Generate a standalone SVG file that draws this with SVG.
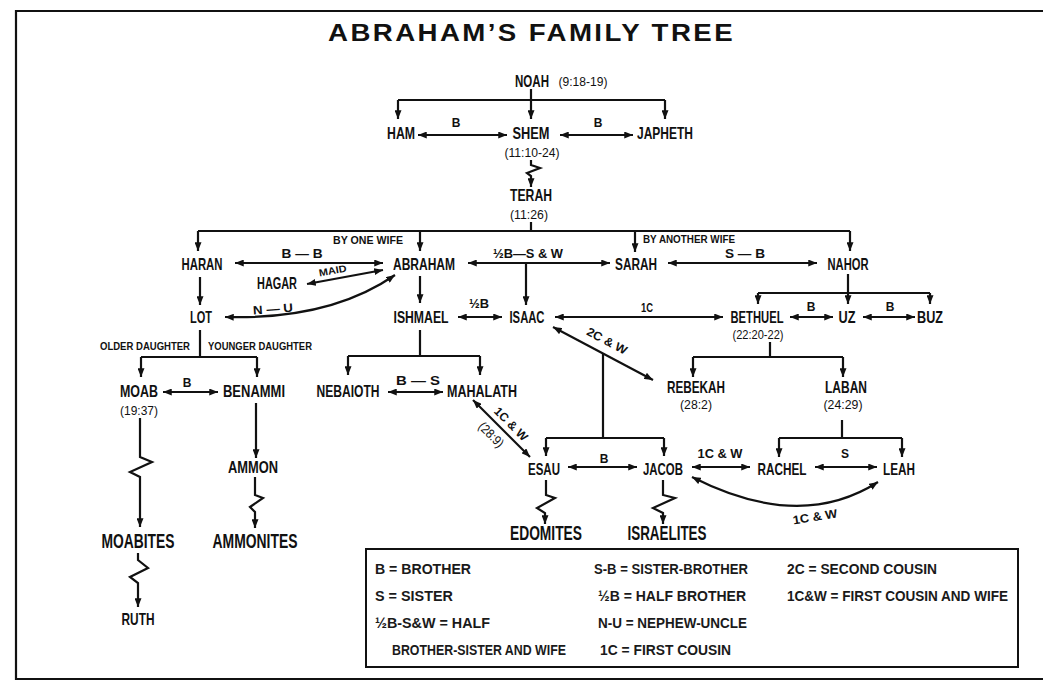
<svg xmlns="http://www.w3.org/2000/svg" width="1043" height="694" viewBox="0 0 1043 694">
<defs>
<marker id="ah" viewBox="0 0 10 8" refX="10" refY="4" markerWidth="9" markerHeight="7" markerUnits="userSpaceOnUse" orient="auto-start-reverse"><path d="M0,0 L10,4 L0,8 z" fill="#111"/></marker>
</defs>
<style>
text{font-family:"Liberation Sans",Arial,Helvetica,sans-serif;fill:#111}
.t{font-size:23px;font-weight:bold}
.n{font-size:16.5px;font-weight:bold;text-anchor:middle}
.big{font-size:20px;font-weight:bold;text-anchor:middle}
.r{font-size:13px;text-anchor:middle}
.e{font-size:12px;font-weight:bold;text-anchor:middle}
.s{font-size:10px;font-weight:bold}
.lg{font-size:14.5px;font-weight:bold;fill:#1a1a1a}
.c{fill:none;stroke:#111;stroke-width:2.2}
.a{fill:none;stroke:#111;stroke-width:2.2;marker-end:url(#ah)}
.d{fill:none;stroke:#111;stroke-width:2.2;marker-start:url(#ah);marker-end:url(#ah)}
.frame{fill:none;stroke:#111;stroke-width:2.2}
</style>
<rect width="1043" height="694" fill="#fff"/>
<path class="frame" d="M1043,11 H16 V679 H1043"/>
<text class="t" x="328" y="41" textLength="407" lengthAdjust="spacingAndGlyphs" letter-spacing="2">ABRAHAM’S FAMILY TREE</text>

<g id="connectors">
<path class="c" d="M531,89 V100 M398,100 H665"/>
<path class="a" d="M398,100 V119"/>
<path class="a" d="M531,100 V119"/>
<path class="a" d="M665,100 V119"/>
<path class="d" d="M418,135 H507"/>
<path class="d" d="M560,135 H633"/>
<path class="a" d="M531,160 V165 L540,168 L527,173 L531,176 V187"/>
<path class="c" d="M531,222 V231 M198,231 H850"/>
<path class="a" d="M198,231 V251"/>
<path class="a" d="M420,231 V251"/>
<path class="a" d="M635,231 V252"/>
<path class="a" d="M850,231 V251"/>
<path class="d" d="M235,263 H383"/>
<path class="d" d="M307,284 L383,270"/>
<path class="d" d="M225,317 Q330,320 395,275"/>
<path class="d" d="M468,263 H610"/>
<path class="a" d="M526,263 V305"/>
<path class="d" d="M668,263 H817"/>
<path class="a" d="M200,277 V305"/>
<path class="a" d="M420,276 V303"/>
<path class="d" d="M458,317 H502"/>
<path class="d" d="M555,317 H723"/>
<path class="c" d="M848,274 V293 M758,293 H930"/>
<path class="a" d="M758,293 V304"/>
<path class="a" d="M848,293 V304"/>
<path class="a" d="M930,293 V304"/>
<path class="d" d="M790,317 H833"/>
<path class="d" d="M863,317 H915"/>
<path class="c" d="M200,330 V357 M141,357 H257"/>
<path class="a" d="M141,357 V377"/>
<path class="a" d="M257,357 V377"/>
<path class="c" d="M420,330 V356 M348,356 H480"/>
<path class="a" d="M348,356 V375"/>
<path class="a" d="M480,356 V375"/>
<path class="d" d="M163,392 H218"/>
<path class="d" d="M388,392 H443"/>
<path class="d" d="M553,327 L653,380"/>
<path class="c" d="M603,353 V438 M546,438 H664"/>
<path class="a" d="M546,438 V456"/>
<path class="a" d="M664,438 V456"/>
<path class="d" d="M473,400 L530,457"/>
<path class="c" d="M770,342 V357 M693,357 H843"/>
<path class="a" d="M693,357 V377"/>
<path class="a" d="M843,357 V377"/>
<path class="c" d="M842,420 V438 M779,438 H902"/>
<path class="a" d="M779,438 V457"/>
<path class="a" d="M902,438 V457"/>
<path class="d" d="M568,467 H637"/>
<path class="d" d="M692,467 H750"/>
<path class="d" d="M815,467 H877"/>
<path class="d" d="M692,477 Q800,532 878,482"/>
<path class="a" d="M256,403 V458"/>
<path class="a" d="M140,418 V457 L152,462 L130,472 L140,477 V527"/>
<path class="a" d="M255,477 V495 L263,498 L250,507 L255,512 V528"/>
<path class="a" d="M138,553 V560 L148,568 L130,577 L138,583 V607"/>
<path class="a" d="M546,480 V495 L555,498 L537,508 L545,513 V524"/>
<path class="a" d="M663,480 V495 L675,498 L653,508 L663,513 V524"/>
</g>

<g id="edge-labels">
<text class="e" x="456" y="127">B</text>
<text class="e" x="598" y="127">B</text>
<text class="s" x="333" y="244" textLength="70" lengthAdjust="spacingAndGlyphs">BY ONE WIFE</text>
<text class="s" x="643" y="243" textLength="92" lengthAdjust="spacingAndGlyphs">BY ANOTHER WIFE</text>
<text class="e" x="302" y="258" textLength="41" lengthAdjust="spacingAndGlyphs">B — B</text>
<text class="s" x="333" y="274" transform="rotate(-10 333 272)" text-anchor="middle" textLength="28" lengthAdjust="spacingAndGlyphs" font-size="8.5">MAID</text>
<text class="e" x="273" y="313" transform="rotate(-4 273 309)" textLength="40" lengthAdjust="spacingAndGlyphs">N — U</text>
<text class="e" x="528" y="258" textLength="70" lengthAdjust="spacingAndGlyphs">½B—S &amp; W</text>
<text class="e" x="745" y="258" textLength="40" lengthAdjust="spacingAndGlyphs">S — B</text>
<text class="e" x="479" y="308" textLength="20" lengthAdjust="spacingAndGlyphs">½B</text>
<text class="e" x="647" y="312" textLength="12" lengthAdjust="spacingAndGlyphs">1C</text>
<text class="e" x="811" y="311">B</text>
<text class="e" x="890" y="311">B</text>
<text class="e" x="607" y="345" transform="rotate(28 607 341)" textLength="44" lengthAdjust="spacingAndGlyphs">2C &amp; W</text>
<text class="e" x="187" y="387">B</text>
<text class="e" x="418" y="385" textLength="44" lengthAdjust="spacingAndGlyphs">B — S</text>
<text class="e" x="511" y="428" transform="rotate(45 511 424)" textLength="42" lengthAdjust="spacingAndGlyphs">1C &amp; W</text>
<text class="r" x="491" y="439" transform="rotate(45 491 435)" font-size="12" textLength="30" lengthAdjust="spacingAndGlyphs">(28:9)</text>
<text class="e" x="604" y="463">B</text>
<text class="e" x="720" y="458" textLength="45" lengthAdjust="spacingAndGlyphs">1C &amp; W</text>
<text class="e" x="845" y="458">S</text>
<text class="e" x="815" y="521" transform="rotate(-9 815 517)" textLength="45" lengthAdjust="spacingAndGlyphs">1C &amp; W</text>
<text class="s" x="100" y="350" textLength="90" lengthAdjust="spacingAndGlyphs">OLDER DAUGHTER</text>
<text class="s" x="208" y="350" textLength="104" lengthAdjust="spacingAndGlyphs">YOUNGER DAUGHTER</text>
</g>

<g id="node-noah"><text class="n" x="532" y="87" font-size="16" textLength="34" lengthAdjust="spacingAndGlyphs">NOAH</text><text class="r" x="583" y="86" font-size="11.5" textLength="49" lengthAdjust="spacingAndGlyphs">(9:18-19)</text></g>
<g id="node-ham"><text class="n" x="401" y="139" textLength="28" lengthAdjust="spacingAndGlyphs">HAM</text></g>
<g id="node-shem"><text class="n" x="531" y="139" textLength="37" lengthAdjust="spacingAndGlyphs">SHEM</text><text class="r" x="532" y="157" textLength="55" lengthAdjust="spacingAndGlyphs">(11:10-24)</text></g>
<g id="node-japheth"><text class="n" x="665" y="139" textLength="56" lengthAdjust="spacingAndGlyphs">JAPHETH</text></g>
<g id="node-terah"><text class="n" x="531" y="201" textLength="42" lengthAdjust="spacingAndGlyphs">TERAH</text><text class="r" x="529" y="219" textLength="38" lengthAdjust="spacingAndGlyphs">(11:26)</text></g>
<g id="node-haran"><text class="n" x="202" y="270" textLength="41" lengthAdjust="spacingAndGlyphs">HARAN</text></g>
<g id="node-abraham"><text class="n" x="424" y="270" textLength="62" lengthAdjust="spacingAndGlyphs">ABRAHAM</text></g>
<g id="node-sarah"><text class="n" x="636" y="270" textLength="42" lengthAdjust="spacingAndGlyphs">SARAH</text></g>
<g id="node-nahor"><text class="n" x="848" y="270" textLength="41" lengthAdjust="spacingAndGlyphs">NAHOR</text></g>
<g id="node-hagar"><text class="n" x="277" y="289" textLength="40" lengthAdjust="spacingAndGlyphs">HAGAR</text></g>
<g id="node-lot"><text class="n" x="201" y="323" textLength="22" lengthAdjust="spacingAndGlyphs">LOT</text></g>
<g id="node-ishmael"><text class="n" x="421" y="323" textLength="55" lengthAdjust="spacingAndGlyphs">ISHMAEL</text></g>
<g id="node-isaac"><text class="n" x="527" y="323" textLength="35" lengthAdjust="spacingAndGlyphs">ISAAC</text></g>
<g id="node-bethuel"><text class="n" x="757" y="323" textLength="53" lengthAdjust="spacingAndGlyphs">BETHUEL</text><text class="r" x="758" y="339" textLength="51" lengthAdjust="spacingAndGlyphs">(22:20-22)</text></g>
<g id="node-uz"><text class="n" x="847" y="323" textLength="17" lengthAdjust="spacingAndGlyphs">UZ</text></g>
<g id="node-buz"><text class="n" x="930" y="323" textLength="26" lengthAdjust="spacingAndGlyphs">BUZ</text></g>
<g id="node-moab"><text class="n" x="139" y="397" textLength="38" lengthAdjust="spacingAndGlyphs">MOAB</text><text class="r" x="139" y="415" textLength="38" lengthAdjust="spacingAndGlyphs">(19:37)</text></g>
<g id="node-benammi"><text class="n" x="254" y="397" textLength="62" lengthAdjust="spacingAndGlyphs">BENAMMI</text></g>
<g id="node-nebaioth"><text class="n" x="348" y="397" font-size="15" textLength="63" lengthAdjust="spacingAndGlyphs">NEBAIOTH</text></g>
<g id="node-mahalath"><text class="n" x="482" y="397" textLength="70" lengthAdjust="spacingAndGlyphs">MAHALATH</text></g>
<g id="node-rebekah"><text class="n" x="696" y="393" textLength="58" lengthAdjust="spacingAndGlyphs">REBEKAH</text><text class="r" x="696" y="409" textLength="32" lengthAdjust="spacingAndGlyphs">(28:2)</text></g>
<g id="node-laban"><text class="n" x="846" y="393" textLength="42" lengthAdjust="spacingAndGlyphs">LABAN</text><text class="r" x="843" y="409" textLength="39" lengthAdjust="spacingAndGlyphs">(24:29)</text></g>
<g id="node-ammon"><text class="n" x="253" y="473" font-size="17.5" textLength="50" lengthAdjust="spacingAndGlyphs">AMMON</text></g>
<g id="node-esau"><text class="n" x="544" y="475" textLength="32" lengthAdjust="spacingAndGlyphs">ESAU</text></g>
<g id="node-jacob"><text class="n" x="663" y="475" textLength="40" lengthAdjust="spacingAndGlyphs">JACOB</text></g>
<g id="node-rachel"><text class="n" x="782" y="475" textLength="49" lengthAdjust="spacingAndGlyphs">RACHEL</text></g>
<g id="node-leah"><text class="n" x="899" y="475" textLength="32" lengthAdjust="spacingAndGlyphs">LEAH</text></g>
<g id="node-edomites"><text class="big" x="546" y="540" font-size="19" textLength="72" lengthAdjust="spacingAndGlyphs">EDOMITES</text></g>
<g id="node-israelites"><text class="big" x="667" y="540" font-size="19" textLength="79" lengthAdjust="spacingAndGlyphs">ISRAELITES</text></g>
<g id="node-moabites"><text class="big" x="138" y="548" textLength="73" lengthAdjust="spacingAndGlyphs">MOABITES</text></g>
<g id="node-ammonites"><text class="big" x="255" y="548" textLength="85" lengthAdjust="spacingAndGlyphs">AMMONITES</text></g>
<g id="node-ruth"><text class="n" x="138" y="625" font-size="17.5" textLength="33" lengthAdjust="spacingAndGlyphs">RUTH</text></g>

<g id="legend">
<rect x="366" y="549" width="652" height="118" fill="none" stroke="#111" stroke-width="2"/>
<text class="lg" x="375" y="574" textLength="96" lengthAdjust="spacingAndGlyphs">B = BROTHER</text>
<text class="lg" x="594" y="574" textLength="154" lengthAdjust="spacingAndGlyphs">S-B = SISTER-BROTHER</text>
<text class="lg" x="787" y="574" textLength="150" lengthAdjust="spacingAndGlyphs">2C = SECOND COUSIN</text>
<text class="lg" x="375" y="601" textLength="78" lengthAdjust="spacingAndGlyphs">S = SISTER</text>
<text class="lg" x="598" y="601" textLength="148" lengthAdjust="spacingAndGlyphs">½B = HALF BROTHER</text>
<text class="lg" x="787" y="601" textLength="221" lengthAdjust="spacingAndGlyphs">1C&amp;W = FIRST COUSIN AND WIFE</text>
<text class="lg" x="375" y="628" textLength="115" lengthAdjust="spacingAndGlyphs">½B-S&amp;W = HALF</text>
<text class="lg" x="598" y="628" textLength="149" lengthAdjust="spacingAndGlyphs">N-U = NEPHEW-UNCLE</text>
<text class="lg" x="392" y="655" textLength="174" lengthAdjust="spacingAndGlyphs">BROTHER-SISTER AND WIFE</text>
<text class="lg" x="600" y="655" textLength="131" lengthAdjust="spacingAndGlyphs">1C = FIRST COUSIN</text>
</g>
</svg>
